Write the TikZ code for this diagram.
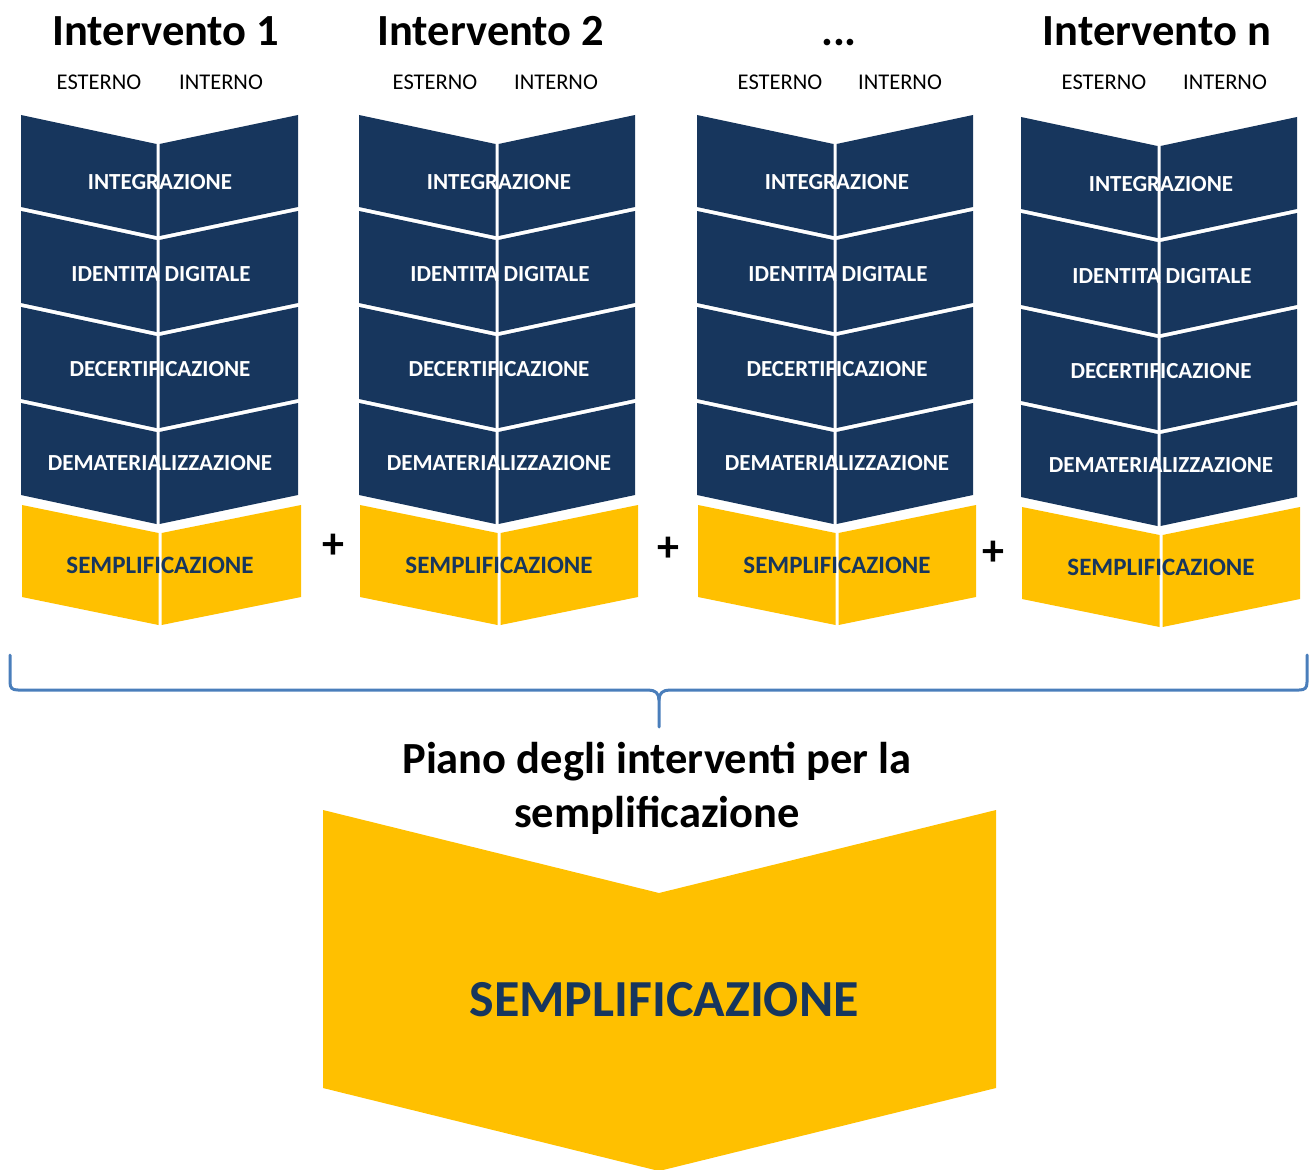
\documentclass[tikz,border=0pt]{standalone}
\usepackage{fontspec}
\setmainfont{Carlito}
\definecolor{navy}{HTML}{17365D}
\definecolor{gold}{HTML}{FFC000}
\definecolor{bracecol}{HTML}{4A7EBB}
\newcommand\chevhalf[7]{% L, C, R, top, height, dip, colour
  \fill[#7] (#1,#4) -- (#2-1.5,#4+#6) -- (#2-1.5,#4+#5+#6) -- (#1,#4+#5) -- cycle;
  \fill[#7] (#2+1.5,#4+#6) -- (#3,#4) -- (#3,#4+#5) -- (#2+1.5,#4+#5+#6) -- cycle;}
\tikzset{
  header/.style={font=\bfseries\fontsize{44.5}{48}\selectfont, text=black, inner sep=0pt, anchor=base},
  sidelabel/.style={font=\fontsize{22.5}{24}\selectfont, text=black, inner sep=0pt},
  bluelabel/.style={font=\bfseries\fontsize{23}{25}\selectfont, text=white, inner sep=0pt},
  goldlabel/.style={font=\bfseries\fontsize{25}{27}\selectfont, text=navy, inner sep=0pt},
  plussign/.style={font=\bfseries\fontsize{44}{46}\selectfont, text=black, inner sep=0pt},
  title/.style={font=\bfseries\fontsize{44.5}{54}\selectfont, text=black, align=center, inner sep=0pt},
  bigl/.style={font=\bfseries\fontsize{52}{56}\selectfont, text=navy, inner sep=0pt},
  brace/.style={draw=bracecol, line width=3pt, line cap=round, line join=round}
}
\begin{document}
\begin{tikzpicture}[x=1pt,y=-1pt]
\useasboundingbox (0,0) rectangle (1313,1169);
% columns: index/L/C/R/dy/header-x/header/ext-x/int-x
\foreach \k/\L/\C/\R/\dy/\hx/\htext/\ex/\ix in {
  1/21/158/298/0/166/{Intervento 1}/99/221,
  2/359/497/635/0/491/{Intervento 2}/435/556,
  3/697/835/973/0/839/{...}/780/900,
  4/1021/1159/1297/2/1157/{Intervento n}/1104/1225}{
  \chevhalf{\L}{\C}{\R}{115+\dy}{92}{29}{navy}
  \chevhalf{\L}{\C}{\R}{211+\dy}{92}{29}{navy}
  \chevhalf{\L}{\C}{\R}{307+\dy}{92}{29}{navy}
  \chevhalf{\L}{\C}{\R}{403+\dy}{92}{29}{navy}
  \chevhalf{\L+1}{\C+2}{\R+3}{505+\dy}{92}{28}{gold}
  \node[header] (h\k) at (\hx,46) {\htext};
  \node[sidelabel] (e\k) at (\ex,82) {ESTERNO};
  \node[sidelabel] (i\k) at (\ix,82) {INTERNO};
  \node[bluelabel] (int\k) at (\C+2,182+\dy) {INTEGRAZIONE};
  \node[bluelabel] (idd\k) at (\C+3,274+\dy) {IDENTITA DIGITALE};
  \node[bluelabel] (dec\k) at (\C+2,369+\dy) {DECERTIFICAZIONE};
  \node[bluelabel] (dem\k) at (\C+2,463+\dy) {DEMATERIALIZZAZIONE};
  \node[goldlabel] (sem\k) at (\C+2,565+\dy) {SEMPLIFICAZIONE};
}
\node[plussign] (p1) at (333,546) {+};
\node[plussign] (p2) at (668,549) {+};
\node[plussign] (p3) at (993,553) {+};
% brace
\coordinate (bl) at (10,655);
\coordinate (br) at (1307,655);
\coordinate (btip) at (659,727);
\draw[brace] (bl) -- (10,682) .. controls (10,688) and (12,690) .. (18,690)
  -- (648,690) .. controls (655,690) and (659,693) .. (659,700) -- (btip);
\draw[brace] (br) -- (1307,682) .. controls (1307,688) and (1305,690) .. (1299,690)
  -- (670,690) .. controls (663,690) and (659,693) .. (659,700);
\node[title] (piano) at (657,788) {Piano degli interventi per la\\semplificazione};
% big chevron
\fill[gold] (323,810) -- (659,893) -- (996,810) -- (996,1088) -- (659,1171) -- (323,1088) -- cycle;
\node[bigl] (big) at (664,1000) {SEMPLIFICAZIONE};
\end{tikzpicture}
\end{document}
